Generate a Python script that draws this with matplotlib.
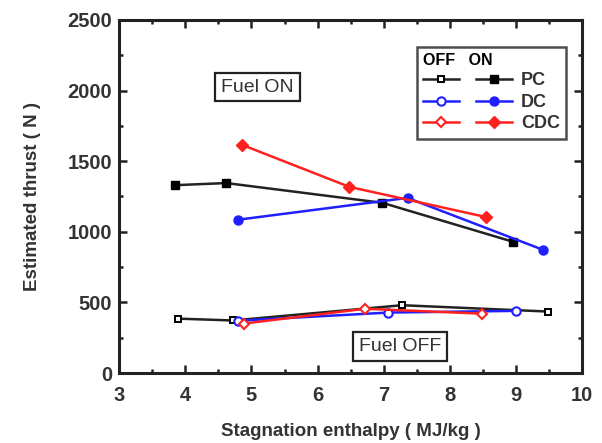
import matplotlib
matplotlib.use("Agg")
from matplotlib import pyplot as plt
from matplotlib.ticker import MultipleLocator

plt.rcParams['font.family'] = ['Liberation Sans', 'DejaVu Sans']

# fuel ON
pc_on_x = [3.85, 4.62, 6.98, 8.95]
pc_on_y = [1330, 1345, 1205, 930]
dc_on_x = [4.79, 7.36, 9.41]
dc_on_y = [1085, 1240, 872]
cdc_on_x = [4.86, 6.48, 8.55]
cdc_on_y = [1615, 1318, 1104]

# fuel OFF
pc_off_x = [3.89, 4.72, 7.28, 9.49]
pc_off_y = [385, 372, 480, 435]
dc_off_x = [4.79, 7.07, 9.0]
dc_off_y = [370, 428, 440]
cdc_off_x = [4.88, 6.72, 8.49]
cdc_off_y = [350, 455, 420]

txt = '#333333'
fig = plt.figure(figsize=(6.02, 4.43), dpi=100)
ax = fig.add_axes([0.198, 0.158, 0.769, 0.797])

lw = 1.8
h_pc_off, = ax.plot(pc_off_x, pc_off_y, color='#222222', lw=lw, marker='s', ms=4.5, mfc='white', mec='black', mew=1.4)
h_dc_off, = ax.plot(dc_off_x, dc_off_y, color='#2020ff', lw=lw, marker='o', ms=6, mfc='white', mec='#2020ff', mew=1.5)
h_cdc_off, = ax.plot(cdc_off_x, cdc_off_y, color='#ff2020', lw=lw, marker='D', ms=5.5, mfc='white', mec='#ff2020', mew=1.5)
h_pc_on, = ax.plot(pc_on_x, pc_on_y, color='#222222', lw=lw, marker='s', ms=6, mfc='black', mec='black')
h_dc_on, = ax.plot(dc_on_x, dc_on_y, color='#2020ff', lw=lw, marker='o', ms=6.5, mfc='#2020ff', mec='#2020ff')
h_cdc_on, = ax.plot(cdc_on_x, cdc_on_y, color='#ff2020', lw=lw, marker='D', ms=6.5, mfc='#ff2020', mec='#ff2020')

ax.set_xlim(3, 10)
ax.set_ylim(0, 2500)
ax.xaxis.set_major_locator(MultipleLocator(1))
ax.xaxis.set_minor_locator(MultipleLocator(0.5))
ax.yaxis.set_major_locator(MultipleLocator(500))
ax.yaxis.set_minor_locator(MultipleLocator(250))
ax.tick_params(which='both', direction='in', top=True, right=True, width=1.8, colors='#222222',
               labelcolor=txt, labelsize=14.5)
ax.tick_params(which='major', length=6, pad=5)
ax.tick_params(axis='x', which='major', pad=9)
ax.tick_params(which='minor', length=3)
for lab in ax.get_xticklabels() + ax.get_yticklabels():
    lab.set_fontweight('bold')
for s in ax.spines.values():
    s.set_linewidth(2.2)
    s.set_color('#222222')

ax.set_xlabel('Stagnation enthalpy ( MJ/kg )', fontsize=13.5, fontweight='bold', color=txt, labelpad=13)
ax.set_ylabel('Estimated thrust ( N )', fontsize=13.5, fontweight='bold', color=txt, labelpad=19)

box = dict(boxstyle='square,pad=0.3', fc='white', ec='#222222', lw=1.6)
ax.text(5.09, 2025, 'Fuel ON', fontsize=14, color=txt, ha='center', va='center', bbox=box)
ax.text(7.25, 190, 'Fuel OFF', fontsize=14, color=txt, ha='center', va='center', bbox=box)

leg = ax.legend([h_pc_off, h_dc_off, h_cdc_off, h_pc_on, h_dc_on, h_cdc_on],
                ['', '', '', 'PC', 'DC', 'CDC'], ncol=2, loc='upper right',
                bbox_to_anchor=(0.985, 0.95), title='OFF   ON  ', frameon=True,
                fancybox=False, shadow=False, columnspacing=0.4, handlelength=2.0,
                handletextpad=0.5, labelspacing=0.25, borderpad=0.35,
                prop={'size': 13, 'weight': 'bold'})
leg.get_title().set_fontsize(11.5)
leg.get_title().set_fontweight('bold')
leg._legend_box.align = 'left'
leg.get_frame().set_edgecolor('#222222')
leg.get_frame().set_linewidth(1.8)
for t in leg.get_texts():
    t.set_color(txt)

fig.savefig('out.png', dpi=100)
